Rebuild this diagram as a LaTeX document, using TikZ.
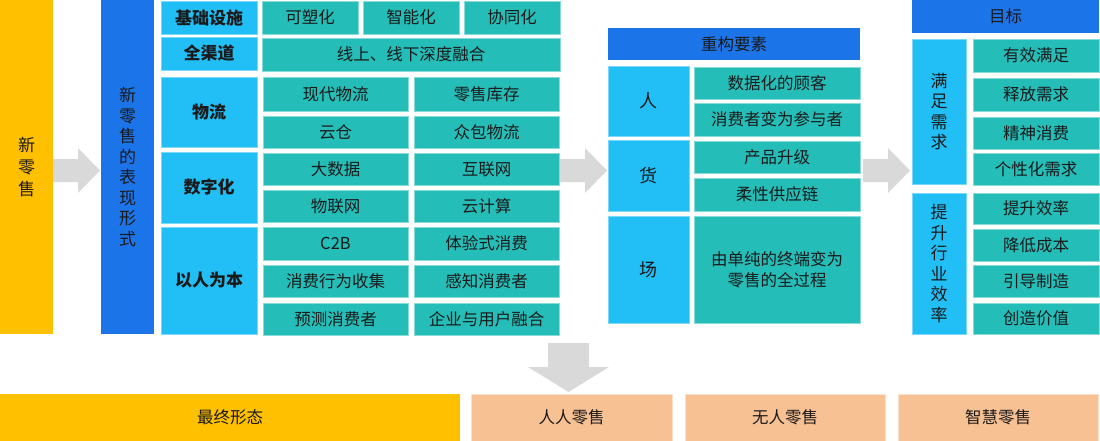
\documentclass[tikz,border=0pt]{standalone}
\usepackage{fontspec}
\setmainfont{Noto Sans CJK SC}
\definecolor{cYel}{HTML}{FFC000}
\definecolor{cDB}{HTML}{1C74E9}
\definecolor{cLB}{HTML}{21BFF6}
\definecolor{cTeal}{HTML}{25BDB8}
\definecolor{cPeach}{HTML}{F8C194}
\definecolor{cGray}{HTML}{D9D9D9}
\definecolor{txt}{HTML}{1A1A1A}
\newcommand\bx[7]{\node[#6, minimum width={(#4-#2)*1pt}, minimum height={(#5-#3)*1pt}] (#1) at ({(#2+#4)/2},{(#3+#5)/2}) {#7};}
\tikzset{
 base/.style={inner sep=0pt, outer sep=0pt, font=\fontsize{16.5}{19}\selectfont, text=txt, align=center},
 yel/.style={base, fill=cYel},
 dblue/.style={base, fill=cDB},
 lblue/.style={base, fill=cLB, draw=cLB!60!white, line width=0.6pt},
 tealb/.style={base, fill=cTeal, draw=cTeal!55!white, line width=0.6pt},
 peach/.style={base, fill=cPeach, draw=cPeach!50!white, line width=0.6pt},
 cat/.style={lblue, font=\fontsize{17}{19}\selectfont\bfseries},
 vert/.style={font=\fontsize{17}{20.5}\selectfont},
 garrow/.style={fill=cGray, draw=none},
}
\begin{document}
\begin{tikzpicture}[x=1pt,y=-1pt]
\useasboundingbox (0,0) rectangle (1100,441);
% left
\bx{xls}{0}{0}{53}{334}{yel, font=\fontsize{17}{22}\selectfont}{新\\零\\售}
\bx{bxxs}{101}{0}{154}{334}{dblue, vert}{新\\零\\售\\的\\表\\现\\形\\式}
% categories
\bx{jcss}{161}{1}{257}{34}{cat}{基础设施}
\bx{qqd}{161}{37}{257}{70}{cat}{全渠道}
\bx{wl}{161}{77}{257}{147}{cat}{物流}
\bx{szh}{161}{152}{257}{223}{cat}{数字化}
\bx{yrwb}{161}{227}{257}{334}{cat}{以人为本}
% teal items
\bx{ksh}{262}{1}{358}{34}{tealb}{可塑化}
\bx{znh}{363}{1}{459}{34}{tealb}{智能化}
\bx{xth}{464}{1}{560}{34}{tealb}{协同化}
\bx{xsx}{262}{38}{560}{71}{tealb}{线上、线下深度融合}
\bx{xdwl}{263}{77}{408}{111}{tealb}{现代物流}
\bx{lskc}{414}{77}{559}{111}{tealb}{零售库存}
\bx{yc}{263}{116}{408}{148}{tealb}{云仓}
\bx{zbwl}{414}{116}{559}{148}{tealb}{众包物流}
\bx{dsj}{263}{153}{408}{185}{tealb}{大数据}
\bx{hlw}{414}{153}{559}{185}{tealb}{互联网}
\bx{wlw}{263}{190}{408}{222}{tealb}{物联网}
\bx{yjs}{414}{190}{559}{222}{tealb}{云计算}
\bx{c2b}{263}{227}{408}{260}{tealb}{C2B}
\bx{tys}{414}{227}{559}{260}{tealb}{体验式消费}
\bx{xfxw}{263}{265}{408}{297}{tealb}{消费行为收集}
\bx{gzxf}{414}{265}{559}{297}{tealb}{感知消费者}
\bx{ycxf}{263}{303}{408}{335}{tealb}{预测消费者}
\bx{qyyh}{414}{303}{559}{335}{tealb}{企业与用户融合}
% middle
\bx{cgys}{608}{28}{860}{60}{dblue}{重构要素}
\bx{ren}{608}{66}{689}{136}{lblue, font=\fontsize{18}{20}\selectfont}{人}
\bx{huo}{608}{140}{689}{211}{lblue, font=\fontsize{18}{20}\selectfont}{货}
\bx{chang}{608}{216}{689}{323}{lblue, font=\fontsize{18}{20}\selectfont}{场}
\bx{sjh}{694}{67}{860}{99}{tealb}{数据化的顾客}
\bx{xfz}{694}{103}{860}{136}{tealb}{消费者变为参与者}
\bx{cpsj}{694}{141}{860}{173}{tealb}{产品升级}
\bx{rxgy}{694}{178}{860}{211}{tealb}{柔性供应链}
\bx{ydc}{694}{216}{860}{323}{tealb, font=\fontsize{16.5}{20.5}\selectfont}{由单纯的终端变为\\零售的全过程}
% right
\bx{mb}{912}{0}{1099}{33}{dblue}{目标}
\bx{mzxq}{912}{39}{966}{184}{lblue, vert}{满\\足\\需\\求}
\bx{tshy}{912}{193}{966}{334}{lblue, vert}{提\\升\\行\\业\\效\\率}
\bx{yxmz}{973}{39}{1099}{72}{tealb}{有效满足}
\bx{sfxq}{973}{78}{1099}{111}{tealb}{释放需求}
\bx{jsxf}{973}{117}{1099}{149}{tealb}{精神消费}
\bx{gxh}{973}{153}{1099}{185}{tealb}{个性化需求}
\bx{tsxl}{973}{193}{1099}{224}{tealb}{提升效率}
\bx{jdcb}{973}{229}{1099}{261}{tealb}{降低成本}
\bx{ydzz}{973}{265}{1099}{297}{tealb}{引导制造}
\bx{czjz}{973}{303}{1099}{334}{tealb}{创造价值}
% bottom
\bx{zzxt}{0}{394}{460}{441}{yel}{最终形态}
\bx{rrls}{471}{394}{672}{441}{peach}{人人零售}
\bx{wrls}{685}{394}{885}{441}{peach}{无人零售}
\bx{zhls}{898}{394}{1098}{441}{peach}{智慧零售}
% block arrows
\fill[garrow] (53,159) -- (78,159) -- (78,148) -- (100,170.5) -- (78,193) -- (78,182) -- (53,182) -- cycle;
\fill[garrow] (560,159) -- (585,159) -- (585,148) -- (607,170.5) -- (585,193) -- (585,182) -- (560,182) -- cycle;
\fill[garrow] (863,159) -- (888,159) -- (888,148) -- (910,170.5) -- (888,193) -- (888,182) -- (863,182) -- cycle;
\fill[garrow] (548,343) -- (589,343) -- (589,367) -- (609,367) -- (568.5,392) -- (528,367) -- (548,367) -- cycle;
\end{tikzpicture}
\end{document}
